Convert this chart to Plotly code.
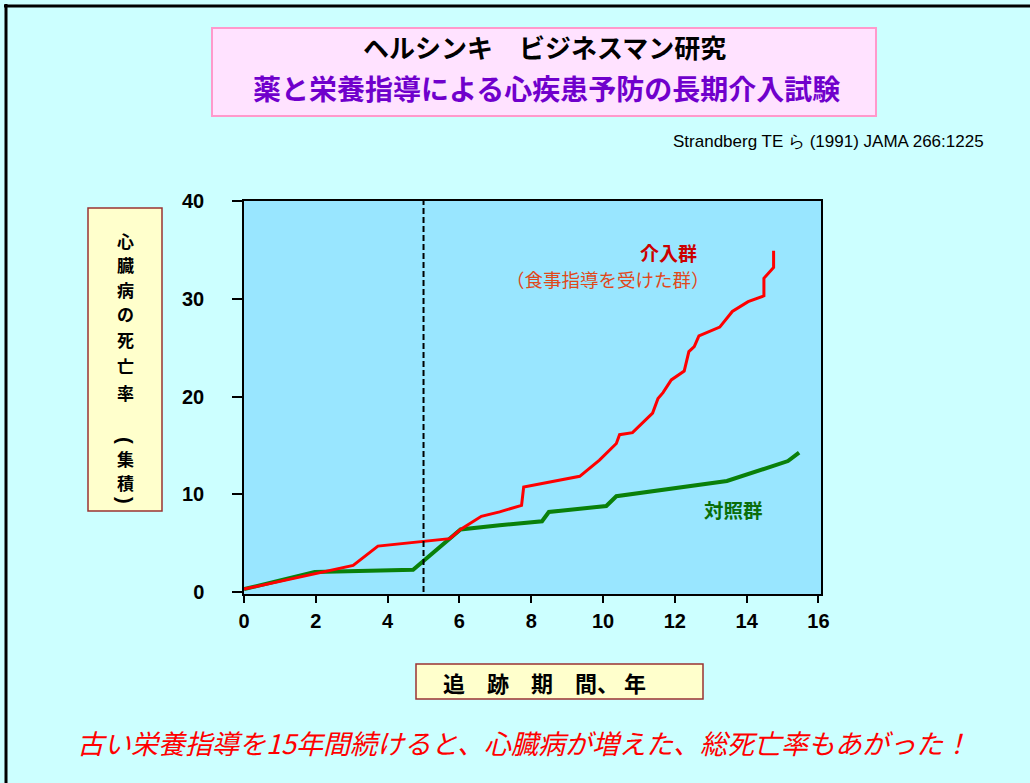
import plotly.graph_objects as go

# ---------------- data ----------------
intervention_years = [0.0, 3.04, 3.73, 5.73, 6.03, 6.61, 7.12, 7.73, 7.79, 9.35, 9.9, 10.37, 10.46,
                      10.82, 11.38, 11.53, 11.67, 11.9, 12.26, 12.39, 12.54, 12.67, 13.25, 13.6,
                      14.04, 14.48, 14.48, 14.75, 14.75]
intervention_rate = [0.3, 2.73, 4.7, 5.46, 6.4, 7.75, 8.2, 8.87, 10.75, 11.84, 13.5, 15.2, 16.1,
                     16.3, 18.3, 19.8, 20.4, 21.7, 22.6, 24.6, 25.1, 26.2, 27.1, 28.7,
                     29.7, 30.3, 32.1, 33.2, 34.9]
control_years = [0.0, 1.97, 4.71, 6.03, 7.12, 8.3, 8.49, 10.09, 10.37, 13.45, 15.15, 15.46]
control_rate = [0.3, 2.05, 2.29, 6.4, 6.83, 7.24, 8.19, 8.8, 9.8, 11.36, 13.4, 14.27]
cutoff_year = 5
x_ticks = [0, 2, 4, 6, 8, 10, 12, 14, 16]
y_ticks = [0, 10, 20, 30, 40]

title1 = "ヘルシンキ　ビジネスマン研究"
title2 = "薬と栄養指導による心疾患予防の長期介入試験"
citation = "Strandberg TE ら (1991) JAMA 266:1225"
label_int = "介入群"
label_int_sub = "（食事指導を受けた群）"
label_ctrl = "対照群"
y_title_chars = ["心", "臓", "病", "の", "死", "亡", "率", "(", "集", "積", ")"]
x_title = "追　跡　期　間、 年"
conclusion = "古い栄養指導を15年間続けると、心臓病が増えた、総死亡率もあがった！"

# ---------------- layout geometry (pixels) ----------------
W, H = 1030, 783
L, R, T, B = 244, 821, 201, 594


def px(x):
    return (x - L) / (R - L)


def py(y):
    return (B - y) / (B - T)


JP = "Noto Sans CJK JP"
fig = go.Figure()
fig.add_trace(go.Scatter(x=control_years, y=control_rate, mode="lines",
                         line=dict(color="#0a800a", width=4), hoverinfo="skip"))
fig.add_trace(go.Scatter(x=intervention_years, y=intervention_rate, mode="lines",
                         line=dict(color="#ff0000", width=3), hoverinfo="skip"))

shapes = []
# slide border
shapes.append(dict(type="line", xref="paper", yref="paper", x0=px(4), x1=px(1040), y0=py(6), y1=py(6),
                   line=dict(color="black", width=3)))
shapes.append(dict(type="line", xref="paper", yref="paper", x0=px(6), x1=px(6), y0=py(4), y1=py(790),
                   line=dict(color="black", width=3)))
# title box
shapes.append(dict(type="rect", xref="paper", yref="paper", x0=px(212), x1=px(876), y0=py(116), y1=py(28),
                   fillcolor="#ffe2ff", line=dict(color="#ff99cc", width=2), layer="below"))
# y title box
shapes.append(dict(type="rect", xref="paper", yref="paper", x0=px(88), x1=px(162), y0=py(511), y1=py(208),
                   fillcolor="#ffffcc", line=dict(color="#993333", width=1.5), layer="below"))
# x title box
shapes.append(dict(type="rect", xref="paper", yref="paper", x0=px(416), x1=px(703), y0=py(699), y1=py(664),
                   fillcolor="#ffffcc", line=dict(color="#993333", width=1.5), layer="below"))
# dashed cutoff line
shapes.append(dict(type="line", xref="x", yref="y", x0=cutoff_year, x1=cutoff_year, y0=0, y1=40,
                   line=dict(color="black", width=2, dash="6px,3px"), layer="above"))

ann = []


def A(text, x, y, size, color="black", bold=False, xanchor="center", family=JP, italic=False, angle=0):
    ann.append(dict(text=text, x=px(x), y=py(y), xref="paper", yref="paper", showarrow=False,
                    xanchor=xanchor, yanchor="middle", textangle=angle,
                    font=dict(family=family, size=size, color=color,
                              weight="bold" if bold else "normal",
                              style="italic" if italic else "normal")))


A(title1, 544, 47, 26, "black", True)
A(title2, 546, 88, 28, "#7000cc", True)
A(citation, 986, 141, 17, "black", False, xanchor="right", family="Liberation Sans")
A(label_int, 668, 252, 19, "#cc0000", True)
A(label_int_sub, 608, 279, 18.5, "#e0481a", False)
A(label_ctrl, 733, 509, 19.5, "#0a6e0a", True)

# vertical y-axis title, one character per line (parentheses turned to vertical form)
ychar_y = [240, 264.5, 289, 313.5, 339, 365, 392, 440, 458, 482.5, 500]
for ch, yy in zip(y_title_chars, ychar_y):
    if ch in "()":
        A(ch, 125, yy, 20, "black", True, family="Liberation Sans", angle=90)
    else:
        A(ch, 125, yy, 17, "black", True)

A(x_title, 544, 682, 22, "black", True)
A(conclusion, 523, 742, 27, "#ff0000", False, italic=True)

fig.update_layout(
    width=W, height=H,
    margin=dict(l=L, r=W - R, t=T, b=H - B, pad=0),
    paper_bgcolor="#ccffff", plot_bgcolor="#99e6ff",
    showlegend=False,
    shapes=shapes, annotations=ann,
    xaxis=dict(range=[0, 16.07], tickvals=x_ticks, ticks="outside", ticklen=7, tickwidth=1.5,
               tickcolor="black", showline=True, linecolor="black", linewidth=1.5, mirror=True,
               showgrid=False, zeroline=False, ticklabelstandoff=1,
               tickfont=dict(family="Liberation Sans", size=20, color="black", weight="bold")),
    yaxis=dict(range=[-0.2, 40], tickvals=y_ticks, ticks="outside", ticklen=10, tickwidth=1.5,
               tickcolor="black", showline=True, linecolor="black", linewidth=1.5, mirror=True,
               showgrid=False, zeroline=False, ticklabelstandoff=24,
               tickfont=dict(family="Liberation Sans", size=20, color="black", weight="bold")),
)

fig.write_html("out.html")
